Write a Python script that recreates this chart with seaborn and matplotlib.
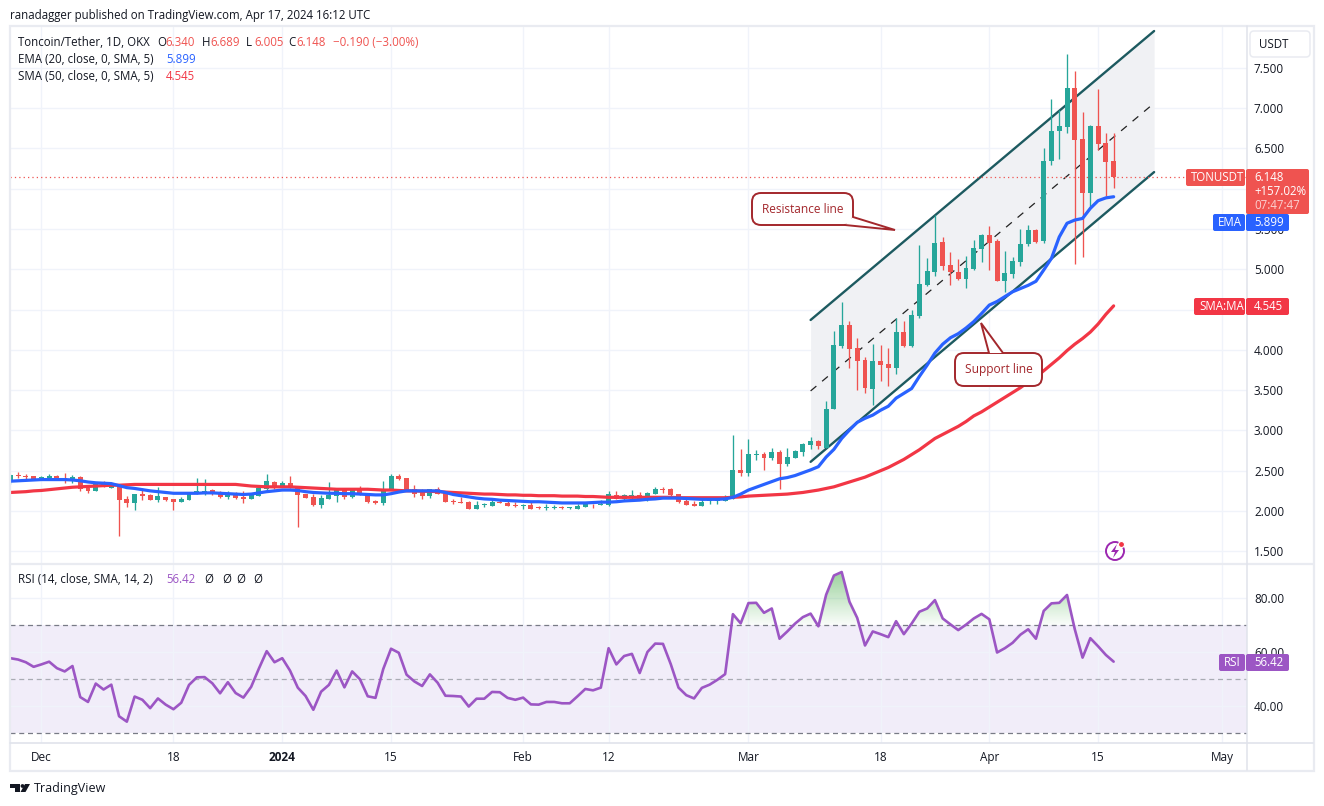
import numpy as np
import pandas as pd
import seaborn as sns
import matplotlib.pyplot as plt
import matplotlib.dates as mdates
from matplotlib.patches import FancyBboxPatch, Polygon, Rectangle, Circle
from matplotlib.path import Path

W, H = 1324, 806
LEFT, RIGHT = 10, 1247
PRICE_TOP, PRICE_BOTTOM = 27, 563
RSI_TOP, RSI_BOTTOM = 565, 743
FIRST_CANDLE_PX = 10.3
PX_PER_DAY = 7.77

UP = "#26a69a"
DOWN = "#ef5350"
BLUE = "#2962ff"
RED = "#f23645"
PURPLE = "#9c56c4"
GRID = "#f0f3fa"
FRAME = "#e9ebf1"
INK = "#131722"
CHANNEL = "#1d5a60"
NOTE = "#a3272c"
TEXT_SIZE = 8.3

OPEN = [
    2.36, 2.445, 2.43, 2.435, 2.405, 2.405, 2.435, 2.405, 2.38, 2.42,
    2.29, 2.25, 2.335, 2.29, 2.32, 2.15, 2.10, 2.21, 2.195, 2.135,
    2.18, 2.15, 2.11, 2.135, 2.21, 2.225, 2.255, 2.235, 2.175, 2.225,
    2.175, 2.15, 2.185, 2.27, 2.36, 2.30, 2.345, 2.30, 2.21, 2.175,
    2.075, 2.15, 2.185, 2.27, 2.175, 2.27, 2.225, 2.125, 2.10, 2.26,
    2.435, 2.41, 2.27, 2.24, 2.185, 2.27, 2.225, 2.12, 2.11, 2.11,
    2.025, 2.07, 2.06, 2.11, 2.105, 2.075, 2.065, 2.075, 2.045, 2.04,
    2.04, 2.05, 2.035, 2.025, 2.05, 2.09, 2.075, 2.075, 2.20, 2.15,
    2.175, 2.20, 2.135, 2.21, 2.27, 2.27, 2.21, 2.125, 2.085, 2.06,
    2.12, 2.125, 2.125, 2.15, 2.51, 2.47, 2.695, 2.705, 2.655, 2.73,
    2.58, 2.66, 2.73, 2.82, 2.87, 2.78, 3.27, 4.05, 4.31, 4.02,
    3.87, 3.51, 3.86, 3.82, 3.78, 4.22, 4.05, 4.42, 4.80, 4.97,
    5.34, 5.05, 4.965, 4.88, 5.00, 5.25, 5.42, 5.35, 4.85, 4.94,
    5.09, 5.31, 5.49, 5.35, 6.34, 6.71, 6.76, 7.25, 6.62, 5.95,
    6.78, 6.565, 6.34,
]
CLOSE = [
    2.45, 2.44, 2.42, 2.395, 2.42, 2.435, 2.395, 2.39, 2.42, 2.275,
    2.25, 2.335, 2.31, 2.32, 2.135, 2.10, 2.21, 2.185, 2.135, 2.185,
    2.135, 2.11, 2.15, 2.22, 2.25, 2.25, 2.225, 2.175, 2.225, 2.16,
    2.15, 2.20, 2.285, 2.37, 2.30, 2.345, 2.285, 2.20, 2.16, 2.075,
    2.16, 2.20, 2.27, 2.175, 2.27, 2.21, 2.11, 2.10, 2.27, 2.435,
    2.40, 2.26, 2.21, 2.185, 2.27, 2.21, 2.11, 2.11, 2.105, 2.025,
    2.075, 2.08, 2.11, 2.105, 2.06, 2.06, 2.075, 2.025, 2.04, 2.055,
    2.055, 2.04, 2.045, 2.06, 2.085, 2.085, 2.09, 2.21, 2.155, 2.20,
    2.20, 2.135, 2.225, 2.27, 2.26, 2.20, 2.11, 2.075, 2.06, 2.11,
    2.13, 2.135, 2.165, 2.51, 2.47, 2.71, 2.705, 2.655, 2.73, 2.58,
    2.67, 2.745, 2.83, 2.87, 2.81, 3.27, 4.06, 4.31, 4.01, 3.86,
    3.52, 3.86, 3.81, 3.78, 4.22, 4.05, 4.43, 4.82, 4.98, 5.33,
    5.04, 4.96, 4.88, 5.015, 5.26, 5.42, 5.33, 4.85, 4.95, 5.10,
    5.31, 5.49, 5.34, 6.34, 6.71, 6.78, 7.25, 6.60, 5.95, 6.78,
    6.55, 6.33, 6.148,
]
HIGH = [
    2.46, 2.485, 2.46, 2.44, 2.435, 2.46, 2.445, 2.47, 2.445, 2.435,
    2.29, 2.335, 2.37, 2.345, 2.32, 2.185, 2.21, 2.28, 2.21, 2.295,
    2.18, 2.155, 2.175, 2.235, 2.41, 2.395, 2.27, 2.25, 2.25, 2.235,
    2.25, 2.225, 2.30, 2.46, 2.37, 2.37, 2.435, 2.31, 2.21, 2.21,
    2.20, 2.36, 2.285, 2.285, 2.285, 2.31, 2.225, 2.135, 2.37, 2.46,
    2.46, 2.41, 2.32, 2.27, 2.27, 2.30, 2.235, 2.15, 2.175, 2.125,
    2.125, 2.10, 2.135, 2.15, 2.15, 2.11, 2.085, 2.11, 2.06, 2.085,
    2.075, 2.06, 2.05, 2.085, 2.10, 2.09, 2.135, 2.25, 2.25, 2.21,
    2.26, 2.235, 2.235, 2.30, 2.30, 2.285, 2.21, 2.15, 2.125, 2.15,
    2.15, 2.15, 2.20, 2.94, 2.77, 2.89, 2.755, 2.73, 2.78, 2.755,
    2.78, 2.76, 2.845, 2.92, 2.88, 3.36, 4.23, 4.59, 4.36, 4.15,
    3.91, 4.07, 4.06, 4.02, 4.39, 4.36, 4.49, 5.30, 5.14, 5.67,
    5.395, 5.21, 5.13, 5.16, 5.36, 5.44, 5.54, 5.38, 5.23, 5.155,
    5.50, 5.55, 5.50, 6.50, 7.11, 6.97, 7.67, 7.455, 6.95, 6.79,
    7.23, 6.69, 6.689,
]
LOW = [
    2.33, 2.415, 2.40, 2.39, 2.39, 2.40, 2.385, 2.35, 2.35, 2.25,
    2.225, 2.25, 2.30, 2.29, 1.695, 2.055, 2.01, 2.135, 2.135, 2.11,
    2.125, 2.01, 2.11, 2.135, 2.21, 2.20, 2.20, 2.16, 2.15, 2.15,
    2.10, 2.15, 2.185, 2.235, 2.27, 2.30, 2.285, 1.80, 2.16, 2.06,
    2.035, 2.15, 2.11, 2.15, 2.16, 2.20, 2.10, 2.085, 2.075, 2.26,
    2.39, 2.25, 2.175, 2.15, 2.16, 2.21, 2.11, 2.085, 2.10, 2.025,
    2.025, 2.05, 2.06, 2.10, 2.06, 2.05, 2.025, 2.025, 2.025, 2.01,
    2.025, 2.025, 2.025, 2.025, 2.05, 2.035, 2.075, 2.06, 2.155, 2.135,
    2.15, 2.135, 2.125, 2.21, 2.225, 2.185, 2.10, 2.075, 2.06, 2.06,
    2.085, 2.085, 2.125, 2.15, 2.435, 2.435, 2.63, 2.51, 2.63, 2.27,
    2.56, 2.66, 2.68, 2.77, 2.77, 2.78, 3.265, 4.02, 3.78, 3.50,
    3.47, 3.32, 3.61, 3.55, 3.70, 4.04, 4.04, 4.39, 4.79, 4.92,
    4.99, 4.80, 4.865, 4.77, 4.99, 5.09, 4.99, 4.85, 4.72, 4.895,
    5.04, 5.29, 5.33, 5.33, 6.29, 6.37, 6.69, 5.06, 5.155, 5.755,
    6.48, 5.91, 6.005,
]
EMA = [
    2.37, 2.375, 2.38, 2.385, 2.39, 2.39, 2.39, 2.39, 2.385, 2.375,
    2.36, 2.35, 2.345, 2.34, 2.315, 2.29, 2.28, 2.265, 2.25, 2.24,
    2.23, 2.22, 2.22, 2.22, 2.22, 2.225, 2.225, 2.22, 2.215, 2.21,
    2.205, 2.21, 2.225, 2.24, 2.25, 2.26, 2.26, 2.255, 2.24, 2.23,
    2.225, 2.22, 2.22, 2.215, 2.215, 2.21, 2.205, 2.20, 2.20, 2.215,
    2.235, 2.25, 2.25, 2.25, 2.25, 2.25, 2.23, 2.205, 2.19, 2.175,
    2.16, 2.15, 2.145, 2.135, 2.13, 2.125, 2.12, 2.115, 2.115, 2.11,
    2.105, 2.10, 2.10, 2.10, 2.10, 2.105, 2.11, 2.11, 2.115, 2.125,
    2.13, 2.135, 2.145, 2.15, 2.16, 2.16, 2.16, 2.155, 2.15, 2.145,
    2.145, 2.145, 2.15, 2.17, 2.21, 2.26, 2.295, 2.33, 2.365, 2.40,
    2.415, 2.44, 2.475, 2.51, 2.55, 2.67, 2.765, 2.90, 3.005, 3.10,
    3.15, 3.19, 3.25, 3.30, 3.40, 3.46, 3.52, 3.67, 3.81, 3.96,
    4.07, 4.15, 4.20, 4.27, 4.35, 4.45, 4.555, 4.60, 4.66, 4.72,
    4.76, 4.80, 4.85, 4.99, 5.135, 5.40, 5.57, 5.61, 5.63, 5.755,
    5.85, 5.885, 5.899,
]
SMA = [
    2.23, 2.235, 2.24, 2.25, 2.255, 2.265, 2.275, 2.285, 2.295, 2.30,
    2.305, 2.31, 2.315, 2.32, 2.32, 2.325, 2.33, 2.33, 2.33, 2.33,
    2.33, 2.33, 2.33, 2.33, 2.33, 2.33, 2.33, 2.33, 2.33, 2.33,
    2.32, 2.31, 2.305, 2.30, 2.30, 2.30, 2.30, 2.295, 2.29, 2.285,
    2.28, 2.275, 2.27, 2.27, 2.27, 2.27, 2.27, 2.265, 2.26, 2.26,
    2.255, 2.25, 2.25, 2.245, 2.245, 2.24, 2.235, 2.23, 2.225, 2.22,
    2.215, 2.21, 2.21, 2.205, 2.20, 2.20, 2.195, 2.195, 2.19, 2.19,
    2.19, 2.185, 2.185, 2.185, 2.18, 2.18, 2.175, 2.17, 2.17, 2.17,
    2.17, 2.17, 2.17, 2.17, 2.17, 2.17, 2.165, 2.165, 2.165, 2.165,
    2.165, 2.165, 2.165, 2.17, 2.175, 2.185, 2.19, 2.195, 2.20, 2.205,
    2.21, 2.22, 2.23, 2.245, 2.26, 2.28, 2.30, 2.33, 2.36, 2.39,
    2.42, 2.46, 2.50, 2.54, 2.59, 2.64, 2.70, 2.76, 2.83, 2.90,
    2.95, 3.00, 3.05, 3.11, 3.18, 3.23, 3.29, 3.35, 3.41, 3.47,
    3.53, 3.60, 3.66, 3.74, 3.82, 3.90, 3.99, 4.07, 4.14, 4.22,
    4.32, 4.44, 4.545,
]
RSI = [
    57.7, 57.2, 56.2, 54.5, 55.4, 56.4, 54.0, 52.8, 54.8, 43.3,
    41.5, 48.3, 46.1, 47.9, 36.2, 34.2, 43.5, 42.3, 39.2, 42.8,
    40.5, 38.8, 41.2, 47.8, 50.6, 50.7, 48.4, 44.7, 48.8, 44.8,
    43.1, 47.1, 53.9, 60.3, 56.2, 57.7, 53.1, 46.8, 43.7, 38.6,
    45.3, 47.8, 53.1, 46.9, 52.8, 49.9, 43.6, 43.0, 53.7, 61.2,
    59.7, 51.6, 49.1, 47.4, 51.7, 48.6, 43.8, 43.7, 43.5, 39.8,
    42.7, 42.7, 45.2, 45.1, 43.0, 42.3, 43.1, 40.6, 40.5, 41.5,
    41.5, 41.0, 41.0, 43.6, 46.3, 45.8, 46.8, 61.4, 55.4, 58.5,
    59.3, 52.2, 60.0, 63.1, 63.0, 55.5, 46.8, 44.0, 42.8, 46.7,
    47.9, 49.7, 51.8, 74.0, 70.6, 78.1, 78.2, 74.5, 76.1, 64.9,
    67.6, 70.5, 72.9, 74.2, 69.5, 81.2, 88.3, 89.6, 78.6, 72.6,
    62.4, 67.6, 66.6, 65.5, 71.4, 66.6, 70.5, 74.9, 76.1, 79.2,
    72.4, 70.2, 68.1, 70.1, 72.4, 74.1, 72.1, 59.8, 61.4, 63.4,
    66.4, 68.4, 64.9, 75.2, 78.0, 78.2, 81.1, 68.4, 57.9, 65.1,
    62.1, 58.9, 56.42,
]

PRICE_TICKS = [1.5, 2.0, 2.5, 3.0, 3.5, 4.0, 4.5, 5.0, 5.5, 6.0, 6.5, 7.0, 7.5]
# these two sit fully behind the price tags in the reference
PRICE_HIDDEN = [4.5, 6.0]
RSI_TICKS = [40, 60, 80]
TIME_TICKS = ["2023-12-01", "2023-12-18", "2024-01-01", "2024-01-15", "2024-02-01",
              "2024-02-12", "2024-03-01", "2024-03-18", "2024-04-01", "2024-04-15", "2024-05-01"]
TIME_LABELS = ["Dec", "18", "2024", "15", "Feb", "12", "Mar", "18", "Apr", "15", "May"]

# parallel channel, both ends of each line
CHANNEL_DAYS = ["2024-03-09 00:00", "2024-04-22 05:00"]
CHANNEL_UPPER = [4.37, 7.955]
CHANNEL_MID = [3.49, 7.06]
CHANNEL_LOWER = [2.61, 6.205]

sns.set_theme(style="white")
plt.rcParams["font.family"] = ["Open Sans", "DejaVu Sans"]
plt.rcParams["font.size"] = TEXT_SIZE

dates = pd.date_range("2023-11-27", periods=len(CLOSE), freq="D")
df = pd.DataFrame({"date": dates, "open": OPEN, "high": HIGH, "low": LOW, "close": CLOSE,
                   "ema": EMA, "sma": SMA, "rsi": RSI})
colors = [UP if c >= o else DOWN for o, c in zip(df["open"], df["close"])]

fig = plt.figure(figsize=(W / 100, H / 100), dpi=100, facecolor="white")


def pane(top, bottom):
    return fig.add_axes([LEFT / W, 1 - bottom / H, (RIGHT - LEFT) / W, (bottom - top) / H])


ax = pane(PRICE_TOP, PRICE_BOTTOM)
ax_rsi = pane(RSI_TOP, RSI_BOTTOM)

first = mdates.date2num(dates[0])
x_left = first + (LEFT - FIRST_CANDLE_PX) / PX_PER_DAY
x_right = first + (RIGHT - FIRST_CANDLE_PX) / PX_PER_DAY
tick_dates = pd.to_datetime(TIME_TICKS)

# channel under the candles
chan_x = pd.to_datetime(CHANNEL_DAYS)
ax.fill_between(chan_x, CHANNEL_LOWER, CHANNEL_UPPER, color="#f0f1f4", lw=0, zorder=1)
ax.plot(chan_x, CHANNEL_UPPER, color=CHANNEL, lw=1.7, zorder=2)
ax.plot(chan_x, CHANNEL_LOWER, color=CHANNEL, lw=1.7, zorder=2)
ax.plot(chan_x, CHANNEL_MID, color="#222222", lw=0.9, dashes=(6, 6), zorder=2)

ax.axhline(CLOSE[-1], color=DOWN, lw=0.9, ls=(0, (1, 2.5)), zorder=2)

# candles
ax.vlines(df["date"], df["low"], df["high"], colors=colors, lw=0.95, zorder=3)
body_low = df[["open", "close"]].min(axis=1)
body_height = (df["close"] - df["open"]).abs().clip(lower=0.012)
ax.bar(df["date"], body_height, bottom=body_low, width=0.64, color=colors, lw=0, zorder=3)

sns.lineplot(data=df, x="date", y="sma", ax=ax, color=RED, lw=2.3, estimator=None, sort=False, zorder=4)
sns.lineplot(data=df, x="date", y="ema", ax=ax, color=BLUE, lw=2.3, estimator=None, sort=False, zorder=5)

# rsi pane
ax_rsi.axhspan(30, 70, color="#f1edf9", lw=0, zorder=0)
for level, shade in ((70, "#787b86"), (50, "#a9abb3"), (30, "#787b86")):
    ax_rsi.axhline(level, color=shade, lw=0.9, dashes=(4, 3), zorder=2)

x_num = mdates.date2num(dates)
rsi = np.array(RSI)
above = ax_rsi.fill_between(x_num, 70, rsi, where=rsi > 70, interpolate=True, color="none", lw=0)
clip = Path.make_compound_path(*above.get_paths())
shade = np.zeros((64, 1, 4))
shade[..., :3] = (0.30, 0.69, 0.31)
shade[:, 0, 3] = np.linspace(0.6, 0.03, 64)
img = ax_rsi.imshow(shade, extent=(x_num[0], x_num[-1], 70, 91), aspect="auto", zorder=2, interpolation="bilinear")
img.set_clip_path(clip, transform=ax_rsi.transData)

sns.lineplot(data=df, x="date", y="rsi", ax=ax_rsi, color=PURPLE, lw=1.9, estimator=None, sort=False, zorder=4)

ax.set_ylim(1.355, 8.005)
ax.set_yticks(PRICE_TICKS, ["" if p in PRICE_HIDDEN else f"{p:.3f}" for p in PRICE_TICKS])
ax_rsi.set_ylim(26.3, 92.2)
ax_rsi.set_yticks(RSI_TICKS, [f"{r:.2f}" for r in RSI_TICKS])

for a in (ax, ax_rsi):
    a.set_xlim(x_left, x_right)
    a.set_xticks(tick_dates)
    a.set_xlabel("")
    a.set_ylabel("")
    a.yaxis.tick_right()
    a.tick_params(axis="both", length=0, labelsize=8.5, labelcolor=INK, pad=5)
    a.grid(True, color=GRID, lw=1)
    a.set_axisbelow(True)
    for spine in a.spines.values():
        spine.set_visible(False)
ax.tick_params(axis="x", labelbottom=False)
ax_rsi.set_xticklabels(TIME_LABELS)
ax_rsi.tick_params(axis="x", pad=5.5)
ax_rsi.get_xticklabels()[2].set_fontweight("bold")

# everything below is placed in pixels on a transparent sheet
ov = fig.add_axes([0, 0, 1, 1], zorder=10)
ov.set_xlim(0, W)
ov.set_ylim(H, 0)
ov.axis("off")


def label(x, y, s, color=INK, **kw):
    kw.setdefault("fontsize", TEXT_SIZE)
    kw.setdefault("va", "center")
    ov.text(x, y + 0.8, s, color=color, **kw)


def tag(x0, x1, y0, y1, color):
    ov.add_patch(FancyBboxPatch((x0 + 1, y0 + 1), x1 - x0 - 2, y1 - y0 - 2, boxstyle="round,pad=1,rounding_size=2",
                                fc=color, ec="none", zorder=3))


# frame and separators
ov.add_patch(Rectangle((9.5, 26), 1304, 744.5, fill=False, ec=FRAME, lw=1.6))
ov.plot([10, 1313], [564, 564], color=FRAME, lw=1.6)
ov.plot([10, 1313], [743.3, 743.3], color="#e0e3eb", lw=1.2)
ov.plot([1246.8, 1246.8], [26, 770], color="#e0e3eb", lw=1.1)

label(10, 14.5, "ranadagger published on TradingView.com, Apr 17, 2024 16:12 UTC")
label(18, 41.5, "Toncoin/Tether, 1D, OKX")
for x, head, val in ((157, "O", "6.340"), (202, "H", "6.689"), (246, "L", "6.005"), (288, "C", "6.148")):
    label(x, 41.5, head)
    label(x + 8, 41.5, val, DOWN)
label(333, 41.5, "\u22120.190 (\u22123.00%)", DOWN)
label(18, 58.5, "EMA (20, close, 0, SMA, 5)")
label(166, 58.5, "5.899", BLUE)
label(18, 75.5, "SMA (50, close, 0, SMA, 5)")
label(166, 75.5, "4.545", RED)
label(18, 578.5, "RSI (14, close, SMA, 14, 2)")
label(166, 578.5, "56.42", PURPLE)
for x in (204, 222, 236, 253):
    label(x, 578.5, "\u00d8")

ov.add_patch(FancyBboxPatch((1250, 31), 60, 26, boxstyle="round,pad=0,rounding_size=4", fc="white", ec=FRAME, lw=1.1))
label(1259, 43.5, "USDT")

# price tags
tag(1186, 1245, 169, 186, DOWN)
label(1191, 177, "TONUSDT", "white")
tag(1246, 1309, 169, 214, DOWN)
label(1254, 176.5, "6.148", "white")
label(1254, 190.5, "+157.02%", "white")
label(1254, 204.5, "07:47:47", "#fbd0cf")
tag(1213, 1245, 214, 231, BLUE)
label(1218, 222, "EMA", "white")
tag(1246, 1289, 214, 231, BLUE)
label(1254, 222, "5.899", "white")
tag(1194, 1245, 298, 315, RED)
label(1199, 306, "SMA:MA", "white")
tag(1246, 1289, 298, 315, RED)
label(1254, 306, "4.545", "white")
tag(1219, 1245, 654, 671, PURPLE)
label(1224, 662, "RSI", "white")
tag(1246, 1289, 654, 671, PURPLE)
label(1254, 662, "56.42", "white")


def callout(x0, y0, x1, y1, tail, text):
    ov.add_patch(FancyBboxPatch((x0, y0), x1 - x0, y1 - y0, boxstyle="round,pad=0,rounding_size=9",
                                fc="white", ec=NOTE, lw=1.4, zorder=2))
    ov.add_patch(Polygon(tail, closed=True, fc="white", ec="none", zorder=3))
    ov.plot([tail[0][0], tail[1][0], tail[2][0]], [tail[0][1], tail[1][1], tail[2][1]], color=NOTE, lw=1.4, zorder=4,
            solid_joinstyle="miter")
    label((x0 + x1) / 2, (y0 + y1) / 2 - 0.5, text, NOTE, ha="center", zorder=5, fontsize=8.6)


callout(752, 193, 853, 225, [(853, 217), (895, 230), (845, 225)], "Resistance line")
callout(955, 353, 1042, 386, [(989, 353), (981, 323), (1003, 353)], "Support line")

# replay badge
ov.add_patch(Circle((1115, 551), 9, fc="white", ec="#9c27b0", lw=1.4))
ov.add_patch(Polygon([(1117, 544), (1111, 552), (1115, 552), (1113, 558), (1119, 550), (1115, 550)], closed=True,
                     fc="#9c27b0", ec="none"))
ov.add_patch(Circle((1121.5, 544.5), 3, fc=RED, ec="white", lw=0.8))

# logo
ov.add_patch(Polygon([(10, 784), (20, 784), (20, 792), (15, 792), (15, 787.5), (10, 787.5)], closed=True, fc=INK, ec="none"))
ov.add_patch(Circle((22.5, 786), 1.9, fc=INK, ec="none"))
ov.add_patch(Polygon([(25, 784), (30, 784), (25.5, 792), (20.5, 792)], closed=True, fc=INK, ec="none"))
label(33.5, 787.5, "TradingView", fontsize=9.0)

fig.savefig("out.png", dpi=100)
